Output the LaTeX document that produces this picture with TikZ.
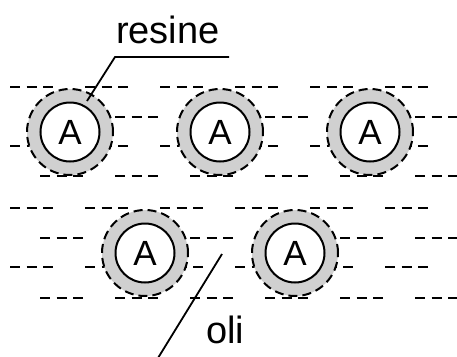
\documentclass[tikz,border=0pt]{standalone}
\usepackage{fontspec}
\setmainfont{Liberation Sans}
\definecolor{ringgray}{RGB}{208,208,208}
\tikzset{
  oilrow/.style={line width=2.4pt, dash pattern=on 10pt off 6.5pt on 10pt off 6.5pt on 10pt off 32pt},
  ring/.style={circle, minimum size=86pt, inner sep=0pt, fill=ringgray, draw, line width=2pt, dash pattern=on 9pt off 5pt},
  core/.style={circle, minimum size=59pt, inner sep=0pt, fill=white, draw, line width=2pt, font=\fontsize{35}{35}\selectfont},
  label/.style={inner sep=0pt, font=\fontsize{38}{38}\selectfont},
  leader/.style={line width=1.8pt}
}
\begin{document}
\begin{tikzpicture}[x=1pt,y=-1pt]
\useasboundingbox (0,0) rectangle (457,356);
% oil layer dashes
\foreach \yy in {87,146,208,267} {\draw[oilrow] (10,\yy) -- (430,\yy);}
\foreach \yy in {117,176,238,298} {\draw[oilrow] (40,\yy) -- (457,\yy);}
% resin-coated particles
\node[ring] (r1) at (70,132) {};
\node[ring] (r2) at (220,132) {};
\node[ring] (r3) at (370,132) {};
\node[ring] (r4) at (145,253) {};
\node[ring] (r5) at (295,253) {};
\node[core] (a1) at (r1) {A};
\node[core] (a2) at (r2) {A};
\node[core] (a3) at (r3) {A};
\node[core] (a4) at (r4) {A};
\node[core] (a5) at (r5) {A};
% labels
\node[label, anchor=base west] (resine) at (116,43) {resine};
\node[label, anchor=base west] (oli) at (206,343) {oli};
% leaders
\coordinate (rtip) at (87,101);
\coordinate (rknee) at (115,57);
\coordinate (rend) at (229,57);
\draw[leader] (rtip) -- (rknee) -- (rend);
\coordinate (otip) at (222,254);
\coordinate (oend) at (158,358);
\draw[leader] (otip) -- (oend);
\end{tikzpicture}
\end{document}
